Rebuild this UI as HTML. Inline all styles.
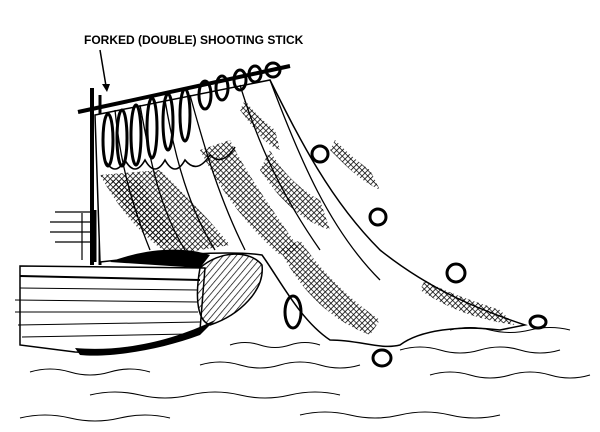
<!DOCTYPE html>
<html><head><meta charset="utf-8"><style>
html,body{margin:0;padding:0;background:#fff;}
svg{display:block}
</style></head><body>
<svg width="600" height="432" viewBox="0 0 600 432" xmlns="http://www.w3.org/2000/svg">
<defs>
<pattern id="h" width="4" height="4" patternUnits="userSpaceOnUse" patternTransform="rotate(45)">
<line x1="0" y1="0" x2="0" y2="4" stroke="#000" stroke-width="1.6"/>
<line x1="0" y1="0" x2="4" y2="0" stroke="#000" stroke-width="1.4"/>
</pattern>
<pattern id="d" width="5" height="5" patternUnits="userSpaceOnUse" patternTransform="rotate(40)">
<line x1="0" y1="0" x2="0" y2="5" stroke="#000" stroke-width="1.4"/>
</pattern>
</defs>
<text x="84" y="44" font-family="Liberation Sans, sans-serif" font-size="12" font-weight="bold">FORKED (DOUBLE) SHOOTING STICK</text>
<line x1="100" y1="50" x2="106" y2="86" stroke="#000" stroke-width="1.5"/>
<polygon points="102,84 110,84 107,92" fill="#000"/>
<g stroke="#000" stroke-width="1.2" fill="none">
<line x1="55" y1="212" x2="95" y2="212"/><line x1="50" y1="222" x2="95" y2="222"/>
<line x1="50" y1="232" x2="95" y2="232"/><line x1="55" y1="242" x2="95" y2="242"/>
<line x1="82" y1="213" x2="82" y2="260"/><line x1="95" y1="210" x2="95" y2="262" stroke-width="3"/>
</g>
<line x1="92" y1="88" x2="92" y2="265" stroke="#000" stroke-width="4"/>
<line x1="100" y1="95" x2="100" y2="265" stroke="#000" stroke-width="3"/>
<path d="M95,115 L270,80 C300,140 330,200 380,250 C430,290 480,310 525,325 L500,330 C460,325 420,330 400,345 C380,350 360,340 330,340 C300,320 280,280 262,255 C230,250 160,255 100,262 Z" fill="#fff" stroke="#000" stroke-width="1.5"/>
<path d="M100,175 C120,210 140,235 170,255 L230,245 C210,220 180,190 160,170 Z" fill="url(#h)"/>
<path d="M110,180 C125,210 140,230 160,245 L180,240 C165,220 150,200 140,180 Z" fill="url(#h)"/>
<path d="M200,150 C220,190 250,230 280,255 L300,250 C280,220 250,180 230,140 Z" fill="url(#h)"/>
<path d="M260,170 C280,200 300,220 330,230 L320,200 C300,190 280,170 270,150 Z" fill="url(#h)"/>
<path d="M280,250 C300,290 330,320 370,335 L380,320 C350,300 320,270 300,240 Z" fill="url(#h)"/>
<path d="M420,290 C450,310 480,320 515,325 L500,310 C470,300 440,290 425,280 Z" fill="url(#h)"/>
<path d="M330,150 C350,170 360,180 380,190 L370,170 C355,160 345,150 335,140 Z" fill="url(#h)"/>
<path d="M240,110 C255,130 265,145 280,150 L275,130 C262,120 252,110 245,100 Z" fill="url(#h)"/>
<g stroke="#000" stroke-width="1.3" fill="none">
<path d="M115,110 C120,160 130,200 150,250"/><path d="M140,105 C150,160 160,210 185,250"/>
<path d="M165,100 C175,160 190,210 215,250"/><path d="M190,95 C205,150 220,200 245,250"/>
<path d="M240,85 C260,150 285,200 320,250"/><path d="M270,80 C300,160 330,230 380,280"/>
<path d="M105,160 q10,18 20,0 q10,18 20,0 q10,18 20,0 q10,18 20,0 q12,15 25,-5 q12,12 25,-8" stroke-width="1.6"/>
</g>
<line x1="78" y1="112" x2="290" y2="66" stroke="#000" stroke-width="4"/>
<g fill="none" stroke="#000" stroke-width="3">
<ellipse cx="108" cy="140" rx="5" ry="26"/><ellipse cx="122" cy="138" rx="5" ry="28"/>
<ellipse cx="136" cy="135" rx="5" ry="30"/><ellipse cx="152" cy="128" rx="5" ry="30"/>
<ellipse cx="168" cy="122" rx="5" ry="28"/><ellipse cx="185" cy="115" rx="5" ry="26"/>
<ellipse cx="205" cy="95" rx="6" ry="14"/><ellipse cx="222" cy="88" rx="6" ry="12"/>
<ellipse cx="240" cy="80" rx="6" ry="10"/><ellipse cx="255" cy="74" rx="6" ry="8"/>
<ellipse cx="273" cy="70" rx="7" ry="7"/>
<ellipse cx="320" cy="154" rx="8" ry="8"/><ellipse cx="378" cy="217" rx="8" ry="8"/>
<ellipse cx="456" cy="273" rx="9" ry="9"/><ellipse cx="538" cy="322" rx="8" ry="6"/>
<ellipse cx="293" cy="312" rx="8" ry="16"/><ellipse cx="382" cy="358" rx="9" ry="8"/>
</g>
<path d="M20,266 L205,268 L200,330 C180,345 130,355 75,352 L20,345 Z" fill="#fff" stroke="#000" stroke-width="1.5"/>
<line x1="20" y1="276" x2="200" y2="280" stroke="#000" stroke-width="2"/>
<g stroke="#000" stroke-width="1">
<line x1="20" y1="288" x2="198" y2="290"/><line x1="15" y1="300" x2="198" y2="302"/>
<line x1="15" y1="312" x2="198" y2="312"/><line x1="18" y1="325" x2="200" y2="322"/>
<line x1="22" y1="337" x2="190" y2="334"/>
</g>
<path d="M75,348 C120,352 170,342 215,320 L200,335 C160,350 110,358 80,355 Z" fill="#000"/>
<path d="M200,268 C220,250 250,250 262,265 C265,290 240,315 210,325 C195,320 196,290 200,268 Z" fill="url(#d)" stroke="#000" stroke-width="1.5"/>
<path d="M110,262 C140,250 180,245 210,255 L200,268 Z" fill="#000"/>
<g stroke="#000" stroke-width="1.1" fill="none">
<path d="M230,345 q15,-5 30,0 t30,0 t30,0"/>
<path d="M200,365 q20,-6 40,0 t40,0 t40,0 t40,0"/>
<path d="M30,372 q20,-6 40,0 t40,0 t40,0"/>
<path d="M90,395 q25,-6 50,0 t50,0 t50,0 t50,0 t50,0"/>
<path d="M400,350 q20,-6 40,0 t40,0 t40,0 t40,0"/>
<path d="M430,375 q20,-6 40,0 t40,0 t40,0 t40,0"/>
<path d="M300,415 q25,-6 50,0 t50,0 t50,0 t50,0"/>
<path d="M20,418 q25,-6 50,0 t50,0 t50,0"/>
<path d="M450,330 q20,-5 40,0 t40,0 t40,0"/>
</g>
</svg>
</body></html>
